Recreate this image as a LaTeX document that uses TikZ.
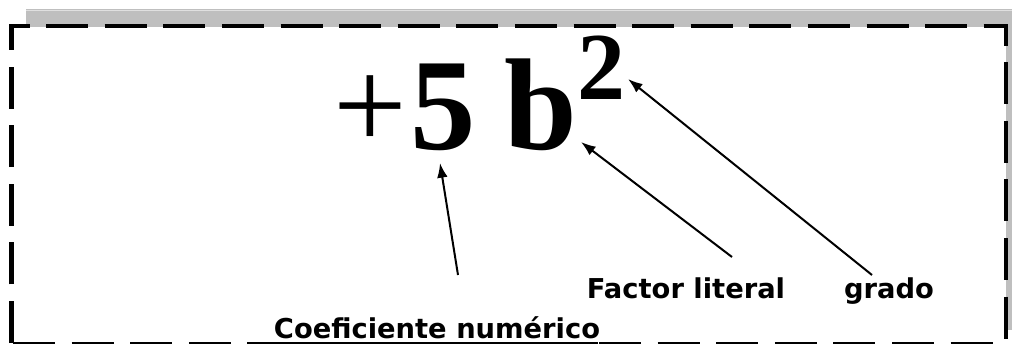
\documentclass[tikz,border=0pt]{standalone}
\usepackage{fontspec}
\setmainfont{Liberation Serif}
\newfontfamily\labelfont{DejaVu Sans}
\usetikzlibrary{arrows.meta,positioning}

\begin{document}
\begin{tikzpicture}[x=0.75pt, y=-0.75pt,
    term/.style={inner sep=0pt, font=\bfseries\fontsize{98pt}{98pt}\selectfont},
    expofont/.style={inner sep=0pt, font=\bfseries\fontsize{72pt}{72pt}\selectfont},
    lbl/.style={inner sep=0pt, font=\labelfont\bfseries\fontsize{20.5pt}{24pt}\selectfont},
    pointer/.style={line width=1.5pt, -{Latex[length=11pt,width=8pt]}},
    frameline/.style={line width=3.6pt, dash pattern=on 31.5pt off 12.45pt},
    bottomdash/.style={line width=1.1pt, dash pattern=on 31.5pt off 12.45pt}]
  \useasboundingbox (0,0) rectangle (1012,345);
  % Gray band
  \fill[black!25] (26,9) rectangle (1012,27);
  \draw[black!12, line width=0.75pt] (26,10.5) -- (1012,10.5);
  \fill[black!25] (1006,27) rectangle (1012,330);
  % Dashed frame
  \draw[frameline] (11.5,343) -- (11.5,26) -- (1006,26) -- (1006,343);
  % Bottom line
  \draw[bottomdash] (13,343) -- (1000,343);
  \draw[line width=1.1pt] (247,343) -- (598,343);
  % Term
  \node[term, anchor=base west, font=\mdseries\fontsize{98pt}{98pt}\selectfont] (plus) at (333,150) {+};
  \node[term, base right=2pt of plus] (five) {5};
  \node[term, base right=21pt of five] (bvar) {b};
  \node[expofont, anchor=base west] (expo) at (577,100) {2};
  % Labels
  \node[lbl, anchor=base] (coef) at (437,338) {Coeficiente numérico};
  \node[lbl, anchor=base] (factor) at (686,298) {Factor literal};
  \node[lbl, anchor=base] (grado) at (889,298) {grado};
  % Arrow ends
  \coordinate (coefTail) at (458,275);
  \coordinate (fiveTip) at (440,163);
  \coordinate (factorTail) at (732,257);
  \coordinate (bvarTip) at (581,142);
  \coordinate (gradoTail) at (872,275);
  \coordinate (expoTip) at (628,79);
  % Arrows
  \draw[pointer] (coefTail) -- (fiveTip);
  \draw[pointer] (factorTail) -- (bvarTip);
  \draw[pointer] (gradoTail) -- (expoTip);
\end{tikzpicture}
\end{document}
